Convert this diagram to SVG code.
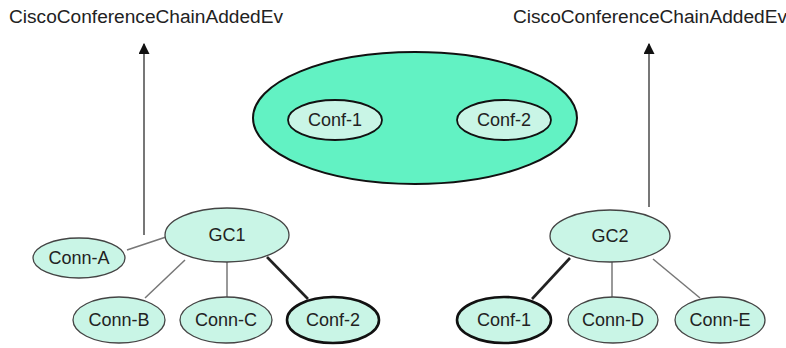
<svg xmlns="http://www.w3.org/2000/svg" width="786" height="348" viewBox="0 0 786 348">
<defs>
<style>
.lbl{font-family:"Liberation Sans",Arial,sans-serif;font-size:18px;fill:#222;text-anchor:middle;dominant-baseline:central}
.ev{font-family:"Liberation Sans",Arial,sans-serif;font-size:18px;fill:#222}
.node{fill:#c9f5e6;stroke:#444;stroke-width:1.3}
.inner{fill:#c9f5e6;stroke:#111;stroke-width:1.8}
.nodeb{fill:#c9f5e6;stroke:#111;stroke-width:2.6}
.thin{stroke:#777;stroke-width:1.5;fill:none}
.thick{stroke:#222;stroke-width:2.6;fill:none}
.arr{stroke:#777;stroke-width:2;fill:none}
</style>
<marker id="ah" viewBox="0 0 10 10" refX="9" refY="5" markerWidth="5.5" markerHeight="5.5" orient="auto" markerUnits="strokeWidth">
<path d="M0,0 L10,5 L0,10 z" fill="#111"/>
</marker>
</defs>
<rect width="786" height="348" fill="#fff"/>
<text class="ev" x="9" y="23" textLength="274" lengthAdjust="spacingAndGlyphs">CiscoConferenceChainAddedEv</text>
<text class="ev" x="513" y="23" textLength="274" lengthAdjust="spacingAndGlyphs">CiscoConferenceChainAddedEv</text>
<g id="connectors">
<line class="arr" x1="144" y1="235" x2="144" y2="44" marker-end="url(#ah)"/>
<line class="arr" x1="649" y1="207" x2="649" y2="44" marker-end="url(#ah)"/>
<line class="thin" x1="127" y1="250" x2="166" y2="237"/>
<line class="thin" x1="185" y1="260" x2="145" y2="298"/>
<line class="thin" x1="227" y1="262" x2="227" y2="298"/>
<line class="thick" x1="267" y1="257" x2="308" y2="299"/>
<line class="thick" x1="570" y1="258" x2="532" y2="299"/>
<line class="thin" x1="612" y1="262" x2="612" y2="298"/>
<line class="thin" x1="653" y1="259" x2="700" y2="298"/>
</g>
<g id="conference">
<ellipse cx="415" cy="118" rx="162" ry="66" fill="#62f2c3" stroke="#111" stroke-width="2"/>
</g>
<g id="conf1-top"><ellipse class="inner" cx="335" cy="120" rx="47" ry="20"/><text class="lbl" x="335" y="120">Conf-1</text></g>
<g id="conf2-top"><ellipse class="inner" cx="504" cy="120" rx="47" ry="20"/><text class="lbl" x="504" y="120">Conf-2</text></g>
<g id="conn-a"><ellipse class="node" cx="79" cy="258" rx="46" ry="20"/><text class="lbl" x="79" y="258">Conn-A</text></g>
<g id="gc1"><ellipse class="node" cx="227" cy="235" rx="62" ry="27"/><text class="lbl" x="227" y="235">GC1</text></g>
<g id="conn-b"><ellipse class="node" cx="119" cy="320" rx="46" ry="23"/><text class="lbl" x="119" y="320">Conn-B</text></g>
<g id="conn-c"><ellipse class="node" cx="226" cy="320" rx="46" ry="23"/><text class="lbl" x="226" y="320">Conn-C</text></g>
<g id="conf2"><ellipse class="nodeb" cx="333" cy="320" rx="46" ry="23"/><text class="lbl" x="333" y="320">Conf-2</text></g>
<g id="gc2"><ellipse class="node" cx="610" cy="236" rx="60" ry="26"/><text class="lbl" x="610" y="236">GC2</text></g>
<g id="conf1"><ellipse class="nodeb" cx="504" cy="320" rx="47" ry="23"/><text class="lbl" x="504" y="320">Conf-1</text></g>
<g id="conn-d"><ellipse class="node" cx="613" cy="320" rx="45" ry="23"/><text class="lbl" x="613" y="320">Conn-D</text></g>
<g id="conn-e"><ellipse class="node" cx="720" cy="320" rx="45" ry="23"/><text class="lbl" x="720" y="320">Conn-E</text></g>
</svg>
